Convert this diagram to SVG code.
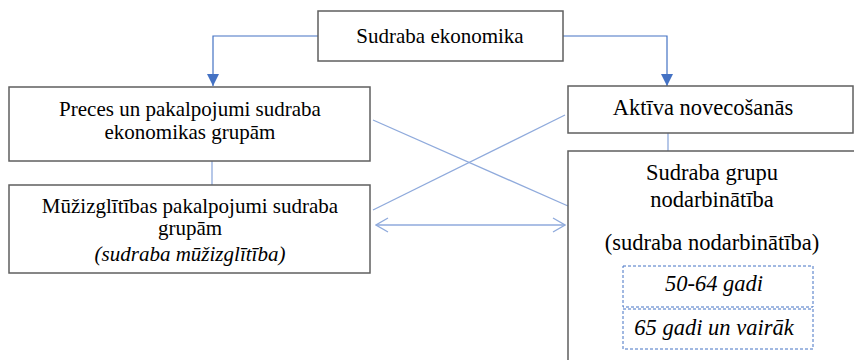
<svg xmlns="http://www.w3.org/2000/svg" width="854" height="360" viewBox="0 0 854 360">
<style>
.box{fill:#fff;stroke:#5f5f5f;stroke-width:1.5}
.dash{fill:none;stroke:#4472c4;stroke-width:1;stroke-dasharray:3 2}
text{font-family:'Liberation Serif','Times New Roman',Tinos,'DejaVu Serif',serif;font-size:21px;fill:#000;text-anchor:middle}
.r{font-size:22.5px}
.i{font-style:italic}
.c1{fill:none;stroke:#4472c4;stroke-width:1.2}
.c2{fill:none;stroke:#8faadc;stroke-width:1.3}
</style>
<defs>
<marker id="tri" viewBox="0 0 12 12" refX="12" refY="6" markerWidth="12" markerHeight="12" markerUnits="userSpaceOnUse" orient="auto">
<path d="M0,0 L12,6 L0,12 Z" fill="#4472c4"/>
</marker>
<marker id="chev" viewBox="0 0 14 16" refX="13" refY="8" markerWidth="14" markerHeight="16" markerUnits="userSpaceOnUse" orient="auto-start-reverse">
<path d="M1,1 L13,8 L1,15" fill="none" stroke="#8faadc" stroke-width="1.3"/>
</marker>
</defs>
<g id="connectors">
<path class="c1" d="M318,36 H213 V86" marker-end="url(#tri)"/>
<path class="c1" d="M563,36 H667 V86" marker-end="url(#tri)"/>
<path class="c2" d="M212,161 V185"/>
<path class="c2" d="M668,133 V151"/>
<path class="c2" d="M373,120 L568,206"/>
<path class="c2" d="M373,210 L565,115"/>
<path class="c2" d="M376,225 H565" marker-start="url(#chev)" marker-end="url(#chev)"/>
</g>
<g id="n-ekonomika">
<rect class="box" x="318" y="11" width="245" height="50"/>
<text x="440" y="43" font-family="Liberation Serif">Sudraba ekonomika</text>
</g>
<g id="n-preces">
<rect class="box" x="9" y="87" width="361" height="74"/>
<text x="190" y="116">Preces un pakalpojumi sudraba</text>
<text x="190" y="139">ekonomikas grupām</text>
</g>
<g id="n-muzizglitiba">
<rect class="box" x="9" y="185" width="361" height="88"/>
<text x="190" y="213">Mūžizglītības pakalpojumi sudraba</text>
<text x="190" y="235">grupām</text>
<text class="i" x="190" y="261">(sudraba mūžizglītība)</text>
</g>
<g id="n-novecosanas">
<rect class="box" x="568" y="86" width="285" height="47"/>
<text class="r" x="703" y="115">Aktīva novecošanās</text>
</g>
<g id="n-nodarbinatiba">
<rect class="box" x="568" y="151" width="320" height="260"/>
<text class="r" x="712" y="180">Sudraba grupu</text>
<text class="r" x="712" y="207">nodarbinātība</text>
<text class="r" x="712" y="250">(sudraba nodarbinātība)</text>
<rect class="dash" x="623" y="266" width="190" height="41"/>
<text class="r i" x="714" y="291">50-64 gadi</text>
<rect class="dash" x="623" y="309" width="190" height="40"/>
<text class="r i" x="714" y="335">65 gadi un vairāk</text>
</g>
</svg>
